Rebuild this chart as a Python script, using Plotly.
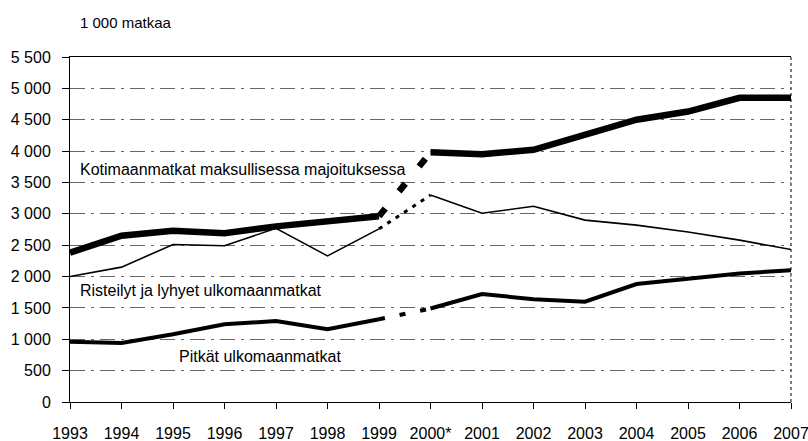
import plotly.graph_objects as go

years = ["1993", "1994", "1995", "1996", "1997", "1998", "1999", "2000*",
         "2001", "2002", "2003", "2004", "2005", "2006", "2007"]
kotimaan = [2380, 2650, 2730, 2690, 2800, 2880, 2960, 3980,
            3950, 4020, 4250, 4500, 4630, 4850, 4850]
risteilyt = [2000, 2150, 2510, 2490, 2770, 2330, 2760, 3300,
             3010, 3120, 2900, 2820, 2710, 2580, 2430]
pitkat = [960, 940, 1080, 1240, 1290, 1160, 1320, 1490,
          1720, 1640, 1600, 1880, 1970, 2050, 2100]
ytick_vals = list(range(0, 5501, 500))
ytick_text = ["0", "500", "1 000", "1 500", "2 000", "2 500", "3 000",
              "3 500", "4 000", "4 500", "5 000", "5 500"]

FONT = "Liberation Sans, Arial, sans-serif"
fig = go.Figure()

def add_series(vals, width, dash, bridge_width=None):
    # solid part before the break, dashed bridge, solid part after
    fig.add_trace(go.Scatter(x=years[:7], y=vals[:7], mode="lines",
                             line=dict(color="black", width=width),
                             hoverinfo="skip", showlegend=False))
    fig.add_trace(go.Scatter(x=years[6:8], y=vals[6:8], mode="lines",
                             line=dict(color="black", width=bridge_width or width,
                                       dash=dash),
                             hoverinfo="skip", showlegend=False))
    fig.add_trace(go.Scatter(x=years[7:], y=vals[7:], mode="lines",
                             line=dict(color="black", width=width),
                             hoverinfo="skip", showlegend=False))

add_series(pitkat, 4, "6px,15px")
add_series(risteilyt, 1.6, "4px,6px", bridge_width=3)
add_series(kotimaan, 6.5, "10px,22px")

fig.update_layout(
    width=808, height=441,
    margin=dict(l=70, r=17, t=57, b=39, autoexpand=False),
    paper_bgcolor="white", plot_bgcolor="white",
    font=dict(family=FONT, size=16, color="black"),
    showlegend=False,
    xaxis=dict(type="category", range=[0, 14], showgrid=False, automargin=False,
               showline=True, linecolor="black", linewidth=1, mirror=True,
               ticks="outside", ticklen=6, tickcolor="black",
               ticklabelstandoff=11, tickfont=dict(size=16)),
    yaxis=dict(range=[0, 5500], tickvals=ytick_vals, ticktext=ytick_text,
               automargin=False,
               showgrid=True, gridcolor="#666", gridwidth=1,
               griddash="longdashdot",
               showline=True, linecolor="black", linewidth=1,
               ticks="outside", ticklen=7, tickcolor="black",
               ticklabelstandoff=8, zeroline=False, tickfont=dict(size=16)),
    annotations=[
        dict(text="1 000 matkaa", xref="paper", yref="paper", x=0.011, y=1.10,
             xanchor="left", yanchor="middle", showarrow=False,
             font=dict(size=15)),
        dict(text="Kotimaanmatkat maksullisessa majoituksessa", xref="paper",
             yref="y", x=0.011, y=3700, xanchor="left", yanchor="middle",
             showarrow=False, font=dict(size=16)),
        dict(text="Risteilyt ja lyhyet ulkomaanmatkat", xref="paper",
             yref="y", x=0.011, y=1770, xanchor="left", yanchor="middle",
             showarrow=False, font=dict(size=16)),
        dict(text="Pitkät ulkomaanmatkat", xref="paper",
             yref="y", x=0.148, y=720, xanchor="left", yanchor="middle",
             showarrow=False, font=dict(size=16)),
    ],
    shapes=[dict(type="line", xref="paper", yref="paper", x0=1, x1=1, y0=0, y1=1,
                 line=dict(color="black", width=1, dash="dot"))],
)

fig.write_html(
    "out.html",
    config={"displayModeBar": False},
    post_script="document.body.style.margin='0';document.body.style.overflow='hidden';",
)
